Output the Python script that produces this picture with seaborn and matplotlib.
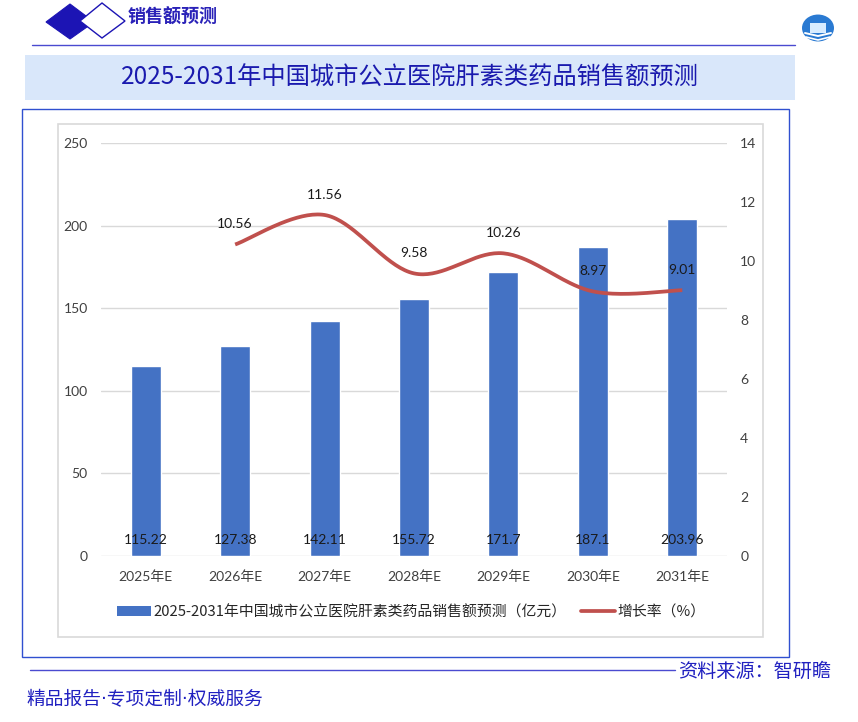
import numpy as np
import matplotlib
matplotlib.use("Agg")
import matplotlib.pyplot as plt
import seaborn as sns
from matplotlib.patches import Rectangle, Polygon, Circle
from matplotlib.lines import Line2D
from matplotlib.patches import Patch

# ---------------- data ----------------
years = ["2025年E", "2026年E", "2027年E", "2028年E", "2029年E", "2030年E", "2031年E"]
sales = [115.22, 127.38, 142.11, 155.72, 171.7, 187.1, 203.96]
growth_years = ["2026年E", "2027年E", "2028年E", "2029年E", "2030年E", "2031年E"]
growth = [10.56, 11.56, 9.58, 10.26, 8.97, 9.01]
sales_label = "2025-2031年中国城市公立医院肝素类药品销售额预测（亿元）"
growth_label = "增长率（%）"
title = "2025-2031年中国城市公立医院肝素类药品销售额预测"
header = "销售额预测"
source = "资料来源：智研瞻"
slogan = "精品报告·专项定制·权威服务"
left_ticks = [0, 50, 100, 150, 200, 250]
right_ticks = [0, 2, 4, 6, 8, 10, 12, 14]

sns.set_theme(style="white")
CJK = ["Noto Sans CJK SC", "DejaVu Sans"]
NUM = ["Lato", "Noto Sans CJK SC", "DejaVu Sans"]
DOT = ["DejaVu Sans", "Noto Sans CJK SC"]
plt.rcParams["font.family"] = CJK

W, H = 858, 722
fig = plt.figure(figsize=(W / 100, H / 100), dpi=100)
fig.patch.set_facecolor("white")

def fx(x):
    return x / W

def fy(y):
    return 1 - y / H

# ---------------- decorations ----------------
navy = "#1c14b4"
fig.patches.append(Polygon([(fx(46), fy(22)), (fx(70), fy(4)), (fx(94), fy(22)), (fx(70), fy(39))],
                           closed=True, transform=fig.transFigure, facecolor=navy, edgecolor=navy, lw=0.8))
fig.patches.append(Polygon([(fx(80), fy(21)), (fx(102), fy(3)), (fx(125), fy(21)), (fx(102), fy(38))],
                           closed=True, transform=fig.transFigure, facecolor="white", edgecolor=navy, lw=1.0))
fig.text(fx(128), fy(17), header, fontsize=13, fontweight="bold", color="#2a22b8",
         ha="left", va="center", family=CJK)
fig.add_artist(Line2D([fx(32), fx(795)], [fy(45), fy(45)], color="#4a4ad0", lw=1.0,
                      transform=fig.transFigure))

# logo
fig.patches.append(Circle((fx(818), fy(28)), 16 / W, transform=fig.transFigure,
                          facecolor="#2a7ad2", edgecolor="none"))
fig.patches.append(Rectangle((fx(810), fy(33)), 16 / W, 10 / H, transform=fig.transFigure,
                             facecolor="#d8ecff", edgecolor="none"))
fig.add_artist(Line2D([fx(805), fx(818), fx(831)], [fy(33), fy(36), fy(33)], color="white", lw=1.4,
                      transform=fig.transFigure))
fig.add_artist(Line2D([fx(806), fx(818), fx(830)], [fy(37), fy(40), fy(37)], color="white", lw=1.2,
                      transform=fig.transFigure))

# title band
fig.patches.append(Rectangle((fx(25), fy(100)), (795 - 25) / W, 45 / H, transform=fig.transFigure,
                             facecolor="#d9e7fa", edgecolor="none"))
fig.text(fx(410), fy(78), title, fontsize=17.5, color="#1a1aae", ha="center", va="center", family=CJK)

# outer blue box and inner gray box
fig.patches.append(Rectangle((fx(22), fy(657)), (789 - 22) / W, (657 - 109) / H, transform=fig.transFigure,
                             facecolor="none", edgecolor="#3050d0", lw=1.0))
fig.patches.append(Rectangle((fx(58), fy(637)), (763 - 58) / W, (637 - 124) / H, transform=fig.transFigure,
                             facecolor="none", edgecolor="#d9d9d9", lw=1.2))

# footer
fig.add_artist(Line2D([fx(30), fx(675)], [fy(670), fy(670)], color="#4a4ad0", lw=1.0,
                      transform=fig.transFigure))
fig.text(fx(678), fy(671), source, fontsize=13.8, color="#2020c0", ha="left", va="center", family=CJK)
fig.text(fx(26), fy(700), slogan, fontsize=13.5, color="#2020c0", ha="left", va="center", family=DOT)

# ---------------- chart ----------------
ax = fig.add_axes([fx(101), fy(556), (727 - 101) / W, (556 - 143) / H])
sns.barplot(x=years, y=sales, color="#4472C4", width=0.335, saturation=1, ax=ax, zorder=3)
ax.set_xlim(-0.5, len(years) - 0.5)
ax.set_ylim(0, 250)
ax.set_yticks(left_ticks)
ax.yaxis.grid(True, color="#d9d9d9", lw=1.0)
ax.set_axisbelow(True)
for s in ax.spines.values():
    s.set_visible(False)
ax.set_xlabel("")
ax.set_ylabel("")
ax.tick_params(axis="y", length=0, pad=9.5, labelsize=10, labelcolor="#404040")
ax.tick_params(axis="x", length=0, pad=10, labelsize=10, labelcolor="#404040")
for lab in ax.get_xticklabels() + ax.get_yticklabels():
    lab.set_family(NUM)

for i, v in enumerate(sales):
    ax.annotate(f"{v:g}", xy=(i, 0), xytext=(0, 11.5), textcoords="offset points",
                ha="center", va="center", fontsize=10, color="#1a1a1a", family=NUM, zorder=5)

ax2 = ax.twinx()
ax2.set_ylim(0, 14)
ax2.set_yticks(right_ticks)
for s in ax2.spines.values():
    s.set_visible(False)
ax2.tick_params(axis="y", length=0, pad=9.5, labelsize=10, labelcolor="#404040")
for lab in ax2.get_yticklabels():
    lab.set_family(NUM)
ax2.grid(False)

# smooth (Excel-like Bezier) curve through growth points
gx = np.array([years.index(y) for y in growth_years], dtype=float)
gy = np.array(growth, dtype=float)
P = np.column_stack([gx, gy])
Pext = np.vstack([P[0], P, P[-1]])
curve = []
t = np.linspace(0, 1, 40)
for k in range(len(P) - 1):
    p0, p1, p2, p3 = Pext[k], Pext[k + 1], Pext[k + 2], Pext[k + 3]
    c1 = p1 + (p2 - p0) / 6
    c2 = p2 - (p3 - p1) / 6
    seg = ((1 - t) ** 3)[:, None] * p1 + (3 * (1 - t) ** 2 * t)[:, None] * c1 + \
          (3 * (1 - t) * t ** 2)[:, None] * c2 + (t ** 3)[:, None] * p2
    curve.append(seg if k == 0 else seg[1:])
curve = np.vstack(curve)
sns.lineplot(x=curve[:, 0], y=curve[:, 1], sort=False, color="#C0504D", lw=2.7, ax=ax2,
             solid_capstyle="butt", zorder=4)
for xi, v in zip(gx, gy):
    ax2.annotate(f"{v:.2f}", xy=(xi, v), xytext=(0, 14.5), textcoords="offset points",
                 ha="center", va="center", fontsize=10, color="#1a1a1a", family=NUM)
ax2.set_xlim(-0.5, len(years) - 0.5)

handles = [Patch(facecolor="#4472C4", edgecolor="none"),
           Line2D([0], [0], color="#C0504D", lw=2.7)]
leg = fig.legend(handles, [sales_label, growth_label], loc="center", ncol=2,
                 bbox_to_anchor=(fx(411), fy(612)), frameon=False,
                 handlelength=2.3, handleheight=0.6, handletextpad=0.15, columnspacing=1.0,
                 prop={"family": CJK, "size": 10.7})
for txt in leg.get_texts():
    txt.set_color("#262626")

fig.savefig("out.png", dpi=100, facecolor="white")
